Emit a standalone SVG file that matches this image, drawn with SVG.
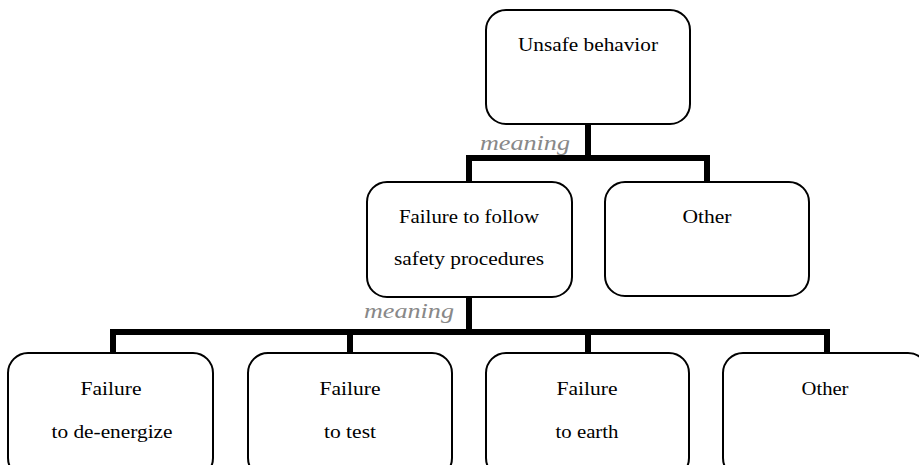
<svg xmlns="http://www.w3.org/2000/svg" width="919" height="465" viewBox="0 0 919 465">
<style>
.box{fill:#fff;stroke:#000;stroke-width:2}
.t{font-family:'Liberation Serif','Times New Roman','DejaVu Serif','Noto Serif',serif;font-size:18px;fill:#000;text-anchor:middle}
.m{font-family:'Liberation Serif','Times New Roman','DejaVu Serif','Noto Serif',serif;font-size:22px;font-style:italic;fill:#888}
.c{fill:none;stroke:#000;stroke-width:6;stroke-linejoin:miter;stroke-linecap:butt}
</style>
<rect width="919" height="465" fill="#fff"/>
<g id="connectors">
<path class="c" d="M588 124V158M469 182V158H707V182"/>
<path class="c" d="M469 297V332M113 353V332H827V353M350 332V353M588 332V353"/>
<text class="m" x="480" y="150" textLength="90" lengthAdjust="spacingAndGlyphs">meaning</text>
<text class="m" x="364" y="318" textLength="90" lengthAdjust="spacingAndGlyphs">meaning</text>
</g>
<g id="n-unsafe">
<rect class="box" x="486" y="10" width="204" height="114" rx="20"/>
<text class="t" x="588" y="51" textLength="140" lengthAdjust="spacingAndGlyphs">Unsafe behavior</text>
</g>
<g id="n-failure-follow">
<rect class="box" x="367" y="182" width="205" height="115" rx="20"/>
<text class="t" x="469" y="223" textLength="140" lengthAdjust="spacingAndGlyphs">Failure to follow</text>
<text class="t" x="469" y="265" textLength="150" lengthAdjust="spacingAndGlyphs">safety procedures</text>
</g>
<g id="n-other1">
<rect class="box" x="605" y="182" width="204" height="114" rx="20"/>
<text class="t" x="707" y="223" textLength="49" lengthAdjust="spacingAndGlyphs">Other</text>
</g>
<g id="n-deenergize">
<rect class="box" x="8" y="353" width="205" height="125" rx="20"/>
<text class="t" x="111" y="395" textLength="61" lengthAdjust="spacingAndGlyphs">Failure</text>
<text class="t" x="112" y="438" textLength="121" lengthAdjust="spacingAndGlyphs">to de-energize</text>
</g>
<g id="n-test">
<rect class="box" x="248" y="353" width="204" height="125" rx="20"/>
<text class="t" x="350" y="395" textLength="61" lengthAdjust="spacingAndGlyphs">Failure</text>
<text class="t" x="350" y="438" textLength="52" lengthAdjust="spacingAndGlyphs">to test</text>
</g>
<g id="n-earth">
<rect class="box" x="486" y="353" width="203" height="125" rx="20"/>
<text class="t" x="587" y="395" textLength="61" lengthAdjust="spacingAndGlyphs">Failure</text>
<text class="t" x="587" y="438" textLength="63" lengthAdjust="spacingAndGlyphs">to earth</text>
</g>
<g id="n-other2">
<rect class="box" x="723" y="353" width="205" height="125" rx="20"/>
<text class="t" x="825" y="395" textLength="47" lengthAdjust="spacingAndGlyphs">Other</text>
</g>
</svg>
